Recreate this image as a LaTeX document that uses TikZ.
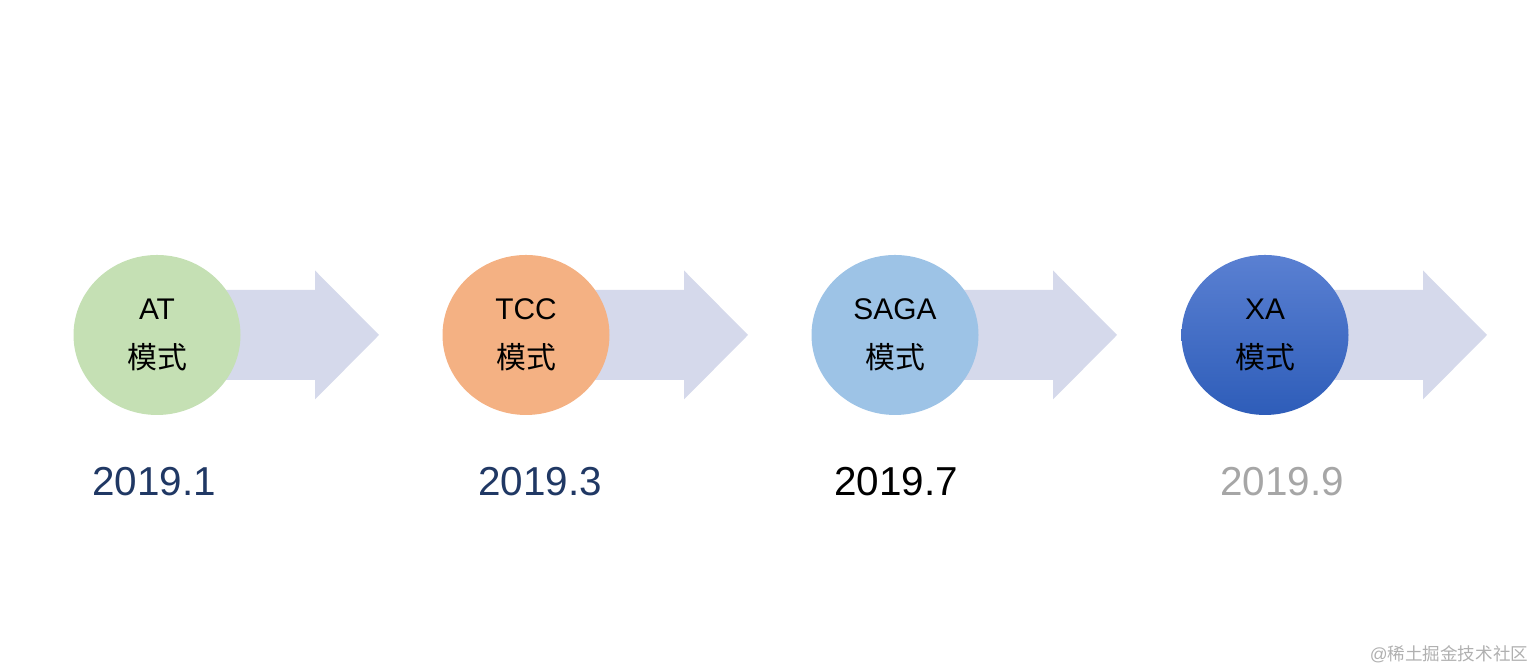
\documentclass[tikz,border=0pt]{standalone}
\usepackage{fontspec}
\setmainfont{Liberation Sans}
\newfontfamily\cjk{Noto Sans CJK SC}
\usetikzlibrary{positioning, shapes.geometric, calc, backgrounds}

\definecolor{atgreen}{HTML}{C5E0B4}
\definecolor{tccorange}{HTML}{F4B183}
\definecolor{sagablue}{HTML}{9DC3E6}
\definecolor{xatop}{HTML}{5A80D2}
\definecolor{xabottom}{HTML}{2E5DB9}
\definecolor{flowgray}{HTML}{D5D9EB}
\definecolor{datenavy}{HTML}{203864}
\definecolor{dategray}{HTML}{A6A6A6}
\definecolor{markgray}{HTML}{B0B0B0}

\begin{document}
\begin{tikzpicture}[
    every node/.style={font=\fontsize{8.5}{14}\selectfont},
    stage/.style={ellipse, minimum width=1.67cm, minimum height=1.6cm, inner sep=0pt, align=center},
    flow/.style={fill=flowgray},
    date/.style={font=\fontsize{11.5}{13}\selectfont},
    wmark/.style={font=\fontsize{5}{6}\selectfont, text=markgray}
]
\useasboundingbox (0,0) rectangle (15.35,6.71);

% ============ STAGES ============
\node[stage, fill=atgreen] (at) at (1.57, 3.36) {AT\\{\cjk 模式}};
\node[stage, fill=tccorange] (tcc) at (5.26, 3.36) {TCC\\{\cjk 模式}};
\node[stage, fill=sagablue] (saga) at (8.95, 3.36) {SAGA\\{\cjk 模式}};
\node[stage, top color=xatop, bottom color=xabottom] (xa) at (12.65, 3.36) {XA\\{\cjk 模式}};

% ============ FLOW ARROWS ============
\begin{scope}[on background layer]
\foreach \s in {at, tcc, saga, xa} {
    \fill[flow] ($(\s)+(0.6,0.45)$) -- ($(\s)+(1.58,0.45)$) -- ($(\s)+(1.58,0.645)$)
        -- ($(\s)+(2.22,0)$) -- ($(\s)+(1.58,-0.645)$) -- ($(\s)+(1.58,-0.45)$)
        -- ($(\s)+(0.6,-0.45)$) -- cycle;
}
\end{scope}

% ============ DATES ============
\node[date, text=datenavy] (d1) at (1.54, 1.89) {2019.1};
\node[date, text=datenavy] (d2) at (5.40, 1.89) {2019.3};
\node[date, text=black] (d3) at (8.96, 1.89) {2019.7};
\node[date, text=dategray] (d4) at (12.82, 1.89) {2019.9};

% watermark
\node[wmark] (wm) at (14.49, 0.17) {@{\cjk 稀土掘金技术社区}};
\end{tikzpicture}
\end{document}
